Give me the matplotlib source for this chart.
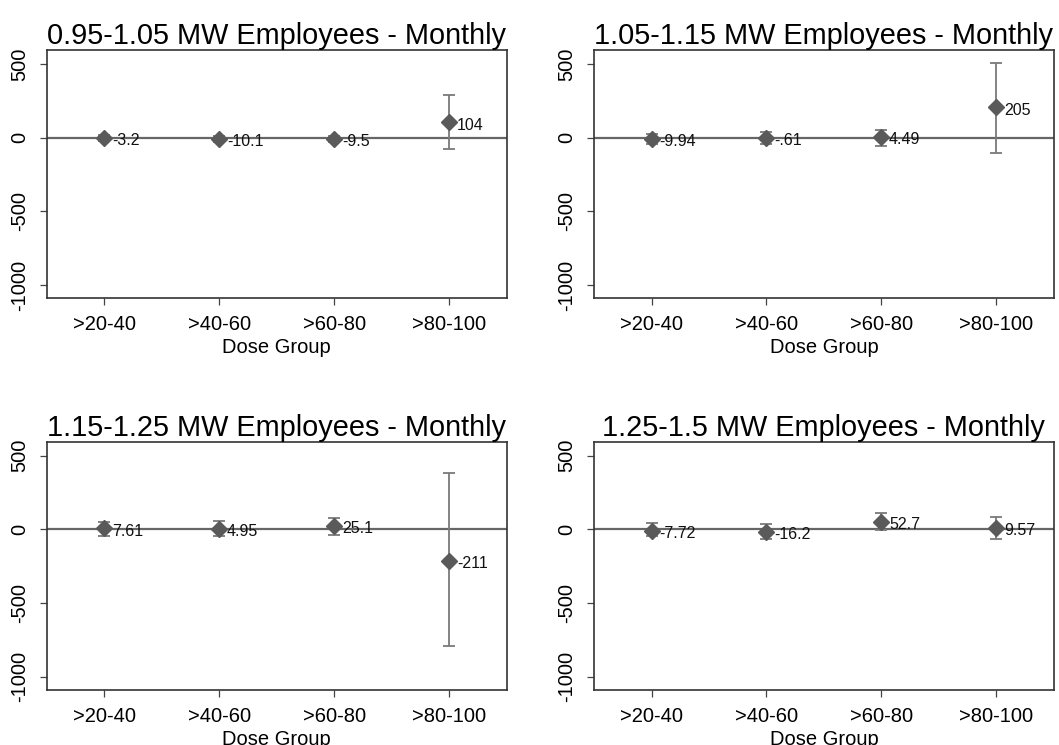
import matplotlib.pyplot as plt
import numpy as np

plt.rcParams['font.family'] = ['Liberation Sans', 'DejaVu Sans']

groups = ['>20-40', '>40-60', '>60-80', '>80-100']
titles = ['0.95-1.05 MW Employees - Monthly', '1.05-1.15 MW Employees - Monthly',
          '1.15-1.25 MW Employees - Monthly', '1.25-1.5 MW Employees - Monthly']

# point estimates, lower / upper CI bounds, labels (per panel)
est = [[-3.2, -10.1, -9.5, 104],
       [-9.94, -0.61, 4.49, 205],
       [7.61, 4.95, 25.1, -211],
       [-7.72, -16.2, 52.7, 9.57]]
ci_lo = [[-22, -30, -28, -80],
         [-40, -40, -55, -102],
         [-47, -47, -35, -790],
         [-47, -63, -5, -63]]
ci_hi = [[16, 10, 10, 288],
         [27, 38, 55, 508],
         [53, 57, 80, 380],
         [43, 38, 110, 85]]
labels = [['-3.2', '-10.1', '-9.5', '104'],
          ['-9.94', '-.61', '4.49', '205'],
          ['7.61', '4.95', '25.1', '-211'],
          ['-7.72', '-16.2', '52.7', '9.57']]

fig = plt.figure(figsize=(10.59, 7.45), dpi=100)
positions = [[0.0444, 0.600, 0.434, 0.333],
             [0.561, 0.600, 0.434, 0.333],
             [0.0444, 0.074, 0.434, 0.333],
             [0.561, 0.074, 0.434, 0.333]]

x = np.arange(1, 5)
for i in range(4):
    ax = fig.add_axes(positions[i])
    e = np.array(est[i])
    lo = e - np.array(ci_lo[i])
    hi = np.array(ci_hi[i]) - e
    ax.axhline(0, color='#666666', lw=1.6, zorder=1)
    ax.errorbar(x, e, yerr=[lo, hi], fmt='none', ecolor='#7a7a7a',
                elinewidth=1.3, capsize=4, capthick=1.3, zorder=2)
    ax.plot(x, e, 'D', color='#5a5a5a', markersize=8.5, zorder=3)
    for xi, yi, t in zip(x, e, labels[i]):
        ax.annotate(t, (xi, yi), xytext=(5.5, -2), textcoords='offset points',
                    ha='left', va='center', fontsize=11.5, color='#111111')
    ax.set_xlim(0.5, 4.5)
    ax.set_ylim(-1088, 595)
    ax.set_xticks(x)
    ax.set_xticklabels(groups, fontsize=14.5)
    ax.set_yticks([500, 0, -500, -1000])
    ax.set_yticklabels(['500', '0', '-500', '-1000'], fontsize=14.5,
                       rotation=90, va='center')
    ax.tick_params(axis='both', length=5, width=0.9, color='#444444')
    ax.tick_params(axis='x', pad=7)
    ax.tick_params(axis='y', pad=8)
    ax.set_xlabel('Dose Group', fontsize=14.5, labelpad=3)
    ax.set_title(titles[i], fontsize=20.8, pad=4)
    for s in ax.spines.values():
        s.set_color('#333333')
        s.set_linewidth(1.2)

fig.savefig('out.png', dpi=100)
